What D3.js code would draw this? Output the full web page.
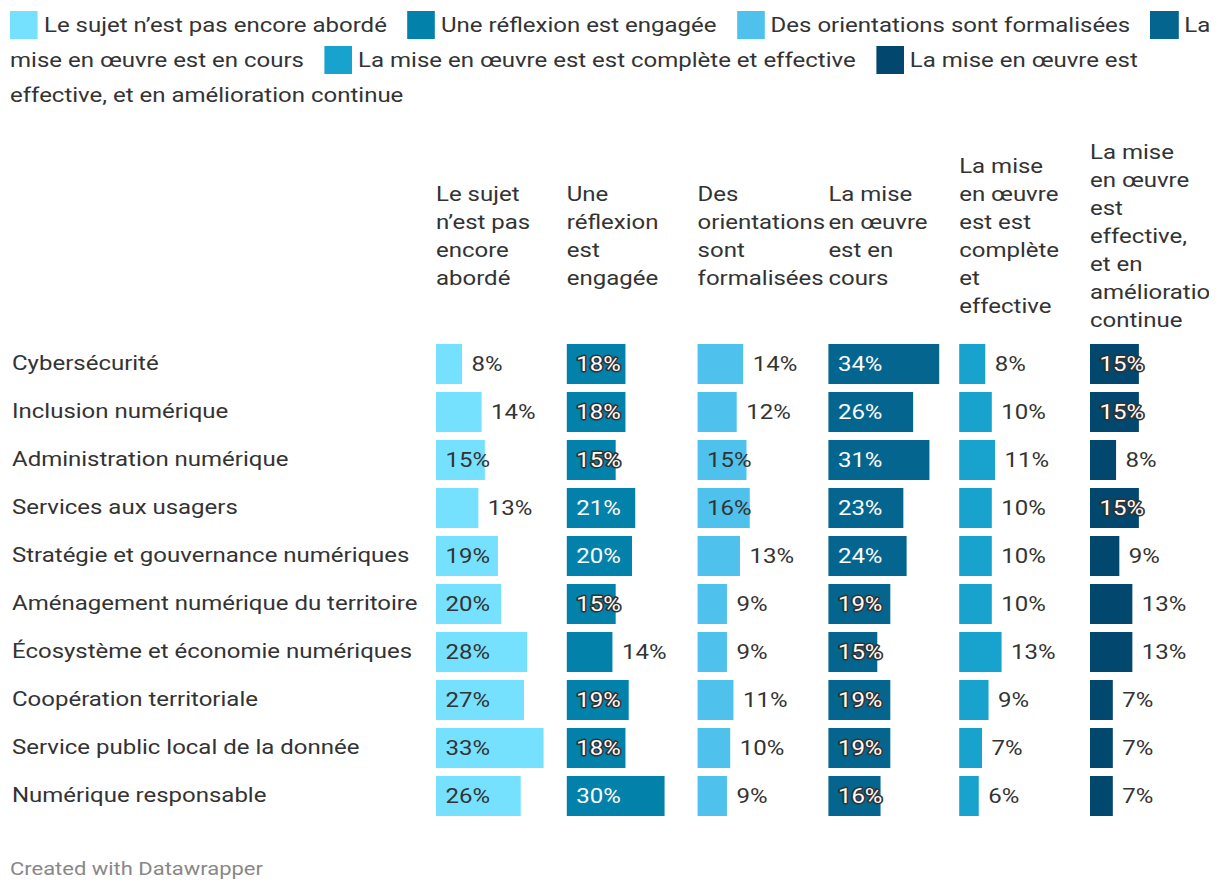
<!DOCTYPE html>
<html><head><meta charset="utf-8">
<script src="https://cdn.jsdelivr.net/npm/d3@7"></script>
<style>
body{margin:0;background:#fff;font-family:Roboto,sans-serif;color:#333;}
#legend{position:absolute;left:10px;top:8px;width:1008px;font-size:20px;line-height:35px;transform:scaleX(1.2);transform-origin:0 0;}
.item{margin-right:16.8px}
.sw{display:inline-block;width:23.3px;height:28px;vertical-align:-7px;margin-right:5px}
svg{position:absolute;left:0;top:0}
</style></head><body>
<svg id="chart" width="1220" height="892"></svg>
<div id="legend"></div>
<script>
const categories = ["Cybersécurité","Inclusion numérique","Administration numérique","Services aux usagers","Stratégie et gouvernance numériques","Aménagement numérique du territoire","Écosystème et économie numériques","Coopération territoriale","Service public local de la donnée","Numérique responsable"];
const seriesNames = ["Le sujet n’est pas encore abordé","Une réflexion est engagée","Des orientations sont formalisées","La mise en œuvre est en cours","La mise en œuvre est est complète et effective","La mise en œuvre est effective, et en amélioration continue"];
const headerLines = [
  ["Le sujet","n’est pas","encore","abordé"],
  ["Une","réflexion","est","engagée"],
  ["Des","orientations","sont","formalisées"],
  ["La mise","en œuvre","est en","cours"],
  ["La mise","en œuvre","est est","complète","et","effective"],
  ["La mise","en œuvre","est","effective,","et en","amélioration","continue"]
];
const valuesAborde     = [8,14,15,13,19,20,28,27,33,26];
const valuesReflexion  = [18,18,15,21,20,15,14,19,18,30];
const valuesOrient     = [14,12,15,16,13,9,9,11,10,9];
const valuesEnCours    = [34,26,31,23,24,19,15,19,19,16];
const valuesComplete   = [8,10,11,10,10,10,13,9,7,6];
const valuesAmelior    = [15,15,8,15,9,13,13,7,7,7];
const seriesValues = [valuesAborde,valuesReflexion,valuesOrient,valuesEnCours,valuesComplete,valuesAmelior];
const colors = ["#76e1fe","#0281ab","#4ec1ed","#04668f","#18a2ce","#01476e"];
const darkBar = [false,true,false,true,false,true];

// legend
const leg = d3.select("#legend");
seriesNames.forEach((s,i)=>{
  const it = leg.append("span").attr("class","item");
  it.append("span").attr("class","sw").style("background",colors[i]);
  it.append("span").text(s);
});

const svg = d3.select("#chart");
const font = "Roboto, sans-serif";
const SX = 1.2;
const tf = (px,py)=>`translate(${px},${py}) scale(${SX},1)`;
const y = d3.scaleBand().domain(categories).range([336,824]).paddingInner(1/6).paddingOuter(1/6);
const col = d3.scaleBand().domain(d3.range(6)).range([436, 436+6*130.8]);
const x = d3.scaleLinear().domain([0,34]).range([0,110.8]);

// category labels
svg.append("g").selectAll("text").data(categories).join("text")
  .attr("transform",d=>tf(12, y(d)+y.bandwidth()/2 - 1)).attr("dy","0.35em")
  .attr("font-family",font).attr("font-size",20).attr("fill","#333").text(d=>d);

// headers
svg.append("clipPath").attr("id","hclip").append("rect").attr("x",0).attr("y",0).attr("width",1209).attr("height",340);
const hg = svg.append("g").attr("clip-path","url(#hclip)");
headerLines.forEach((lines,i)=>{
  const n = lines.length, lh = 28, cy = 236;
  const t = hg.append("text").attr("transform",tf(col(i),0))
    .attr("font-family",font).attr("font-size",20).attr("fill","#333");
  lines.forEach((l,j)=>{
    t.append("tspan").attr("x",0).attr("y", cy + (j-(n-1)/2)*lh).attr("dy","0.35em").text(l);
  });
});

// bars
seriesValues.forEach((vals,i)=>{
  const g = svg.append("g");
  const data = vals.map((v,k)=>({v, c:categories[k]}));
  g.selectAll("rect").data(data).join("rect")
    .attr("x",col(i)).attr("y",d=>y(d.c)).attr("width",d=>x(d.v)).attr("height",y.bandwidth())
    .attr("fill",colors[i]);
  g.selectAll("text").data(data).join("text")
    .attr("transform",d=>tf(d.v>=15 ? col(i)+9.5 : col(i)+x(d.v)+9.5, y(d.c)+y.bandwidth()/2))
    .attr("dy","0.35em")
    .attr("font-family",font).attr("font-size",20)
    .attr("fill",d=> d.v>=15 && darkBar[i] ? "#fff" : "#333")
    .attr("stroke",d=> d.v>=15 && d.v<=19 && darkBar[i] ? "#333" : "none")
    .attr("stroke-width",3).attr("paint-order","stroke").attr("stroke-linejoin","round")
    .text(d=>d.v+"%");
});

svg.append("text").attr("transform",tf(10,875)).attr("font-family",font).attr("font-size",18.3)
  .attr("fill","#888").text("Created with Datawrapper");
</script>
</body></html>
